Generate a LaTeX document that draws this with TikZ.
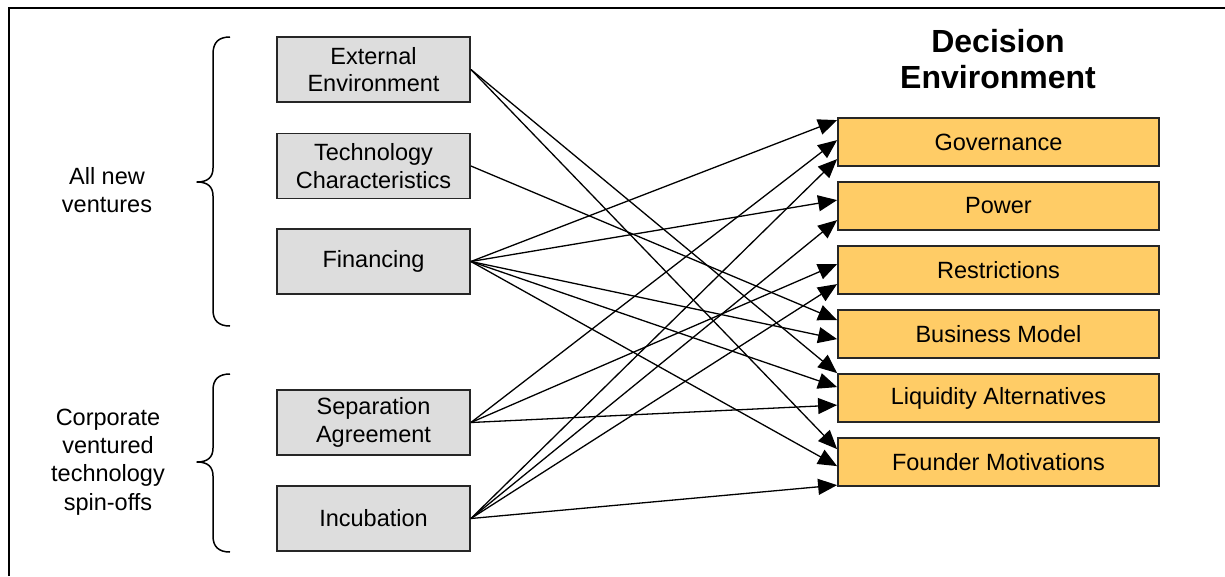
\documentclass[tikz,border=0pt]{standalone}
\usepackage{fontspec}
\setmainfont{Liberation Sans}
\usetikzlibrary{arrows.meta,calc}
\definecolor{boxgray}{HTML}{DDDDDD}
\definecolor{boxorange}{HTML}{FFCC66}
\begin{document}
\begin{tikzpicture}[x=1pt,y=-1pt,
  txt/.style={font=\fontsize{23.5}{27.5}\selectfont, align=center, text=black},
  srcbox/.style={txt, draw=black!85, line width=1.8pt, fill=boxgray, minimum width=193pt, minimum height=65pt, inner sep=0pt},
  dstbox/.style={txt, draw=black!85, line width=1.8pt, fill=boxorange, minimum width=321pt, minimum height=48pt, inner sep=0pt},
  link/.style={line width=1.3pt, -{Triangle[length=19pt,width=16pt]}},
  bracepath/.style={line width=1.5pt, line join=round}]
\useasboundingbox (0,0) rectangle (1225,576);
\draw[line width=2.2pt] (9,576) -- (9,8) -- (1225,8);

% left labels
\node[txt] (allnew) at (107,190) {All new\\ventures};
\node[txt, font=\fontsize{23.5}{28.3}\selectfont] (corp) at (108,462) {Corporate\\ventured\\technology\\spin-offs};

% braces
\draw[bracepath] (230,37) .. controls (219,37) and (213,42) .. (213,54) -- (213,168)
  .. controls (213,177) and (208,182) .. (197,182)
  .. controls (208,182) and (213,187) .. (213,196) -- (213,310)
  .. controls (213,321) and (219,326) .. (230,326);
\draw[bracepath] (230,374) .. controls (219,374) and (213,379) .. (213,390) -- (213,448)
  .. controls (213,457) and (208,462) .. (197,462)
  .. controls (208,462) and (213,467) .. (213,476) -- (213,536)
  .. controls (213,547) and (219,552) .. (230,552);

% source boxes
\node[srcbox] (ext) at (373.5,69.5) {External\\Environment};
\node[srcbox] (tech) at (373.5,166) {Technology\\Characteristics};
\node[srcbox] (fin) at (373.5,261.5) {Financing};
\node[srcbox] (sep) at (373.5,422.5) {Separation\\Agreement};
\node[srcbox] (inc) at (373.5,518.5) {Incubation};

% title
\node[font=\bfseries\fontsize{32}{36}\selectfont, align=center] (title) at (998,59) {Decision\\Environment};

% target boxes
\node[dstbox] (gov) at (998.5,142) {Governance};
\node[dstbox] (pow) at (998.5,206) {Power};
\node[dstbox] (res) at (998.5,270) {Restrictions};
\node[dstbox] (bus) at (998.5,334) {Business Model};
\node[dstbox] (liq) at (998.5,398) {Liquidity Alternatives};
\node[dstbox] (fou) at (998.5,462) {Founder Motivations};

% arrow end points
\coordinate (gov1) at ($(gov.north west)+(0,3)$);
\coordinate (gov2) at ($(gov.north west)+(0,23)$);
\coordinate (gov3) at ($(gov.north west)+(0,42)$);
\coordinate (pow1) at ($(pow.north west)+(0,19)$);
\coordinate (pow2) at ($(pow.north west)+(0,39)$);
\coordinate (res1) at ($(res.north west)+(0,19)$);
\coordinate (res2) at ($(res.north west)+(0,39)$);
\coordinate (bus1) at ($(bus.north west)+(0,11)$);
\coordinate (bus2) at ($(bus.north west)+(0,30)$);
\coordinate (liq1) at ($(liq.north west)+(0,0)$);
\coordinate (liq2) at ($(liq.north west)+(0,14)$);
\coordinate (liq3) at ($(liq.north west)+(0,32)$);
\coordinate (fou1) at ($(fou.north west)+(0,12)$);
\coordinate (fou2) at ($(fou.north west)+(0,29)$);
\coordinate (fou3) at ($(fou.north west)+(0,48)$);

% connectors
\draw[link] (ext.east) -- (liq1);
\draw[link] (ext.east) -- (fou1);
\draw[link] (tech.east) -- (bus1);
\draw[link] (fin.east) -- (gov1);
\draw[link] (fin.east) -- (pow1);
\draw[link] (fin.east) -- (bus2);
\draw[link] (fin.east) -- (liq2);
\draw[link] (fin.east) -- (fou2);
\draw[link] (sep.east) -- (gov2);
\draw[link] (sep.east) -- (res1);
\draw[link] (sep.east) -- (liq3);
\draw[link] (inc.east) -- (gov3);
\draw[link] (inc.east) -- (pow2);
\draw[link] (inc.east) -- (res2);
\draw[link] (inc.east) -- (fou3);
\end{tikzpicture}
\end{document}
